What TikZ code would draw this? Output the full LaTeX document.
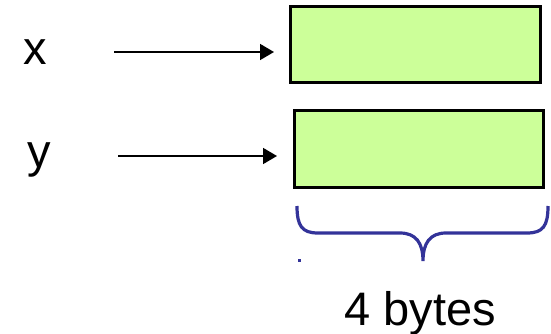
\documentclass[tikz,border=0pt]{standalone}
\usepackage{fontspec}
\setmainfont{Liberation Sans}
\usetikzlibrary{arrows.meta}
\definecolor{cellgreen}{HTML}{CCFF99}
\definecolor{braceblue}{HTML}{333399}
\begin{document}
\begin{tikzpicture}[x=1pt,y=-1pt,
  cell/.style={draw=black, line width=2.6pt, fill=cellgreen, anchor=north west, inner sep=0pt},
  arr/.style={line width=1.7pt, -{Triangle[length=14pt,width=16pt]}},
  varname/.style={font=\fontsize{47}{50}\selectfont, inner sep=0pt, anchor=base},
  brace/.style={draw=braceblue, line width=3.2pt}]
  \useasboundingbox (0,0) rectangle (551,334);

  % memory cells
  \node[cell, minimum width=250pt, minimum height=76pt] (bx) at (289,5) {};
  \node[cell, minimum width=249pt, minimum height=77pt] (by) at (293,109) {};

  % variable names
  \node[varname] (vx) at (35,65) {x};
  \node[varname] (vy) at (39,167) {y};

  % pointers
  \coordinate (sx) at (114,52);
  \coordinate (ex) at (274,52);
  \coordinate (sy) at (118,156);
  \coordinate (ey) at (277,156);
  \draw[arr] (sx) -- (ex);
  \draw[arr] (sy) -- (ey);

  % size brace
  \draw[brace] (297,206) .. controls (297,226) and (302,233) .. (318,233)
    -- (400,233) .. controls (416,233) and (423,243) .. (423,261)
    .. controls (423,243) and (430,233) .. (446,233)
    -- (527,233) .. controls (543,233) and (548,226) .. (548,206);
  \fill[braceblue] (297.5,258.5) rectangle (301,262);

  \node[varname] (size) at (420,325) {4 bytes};
\end{tikzpicture}
\end{document}
